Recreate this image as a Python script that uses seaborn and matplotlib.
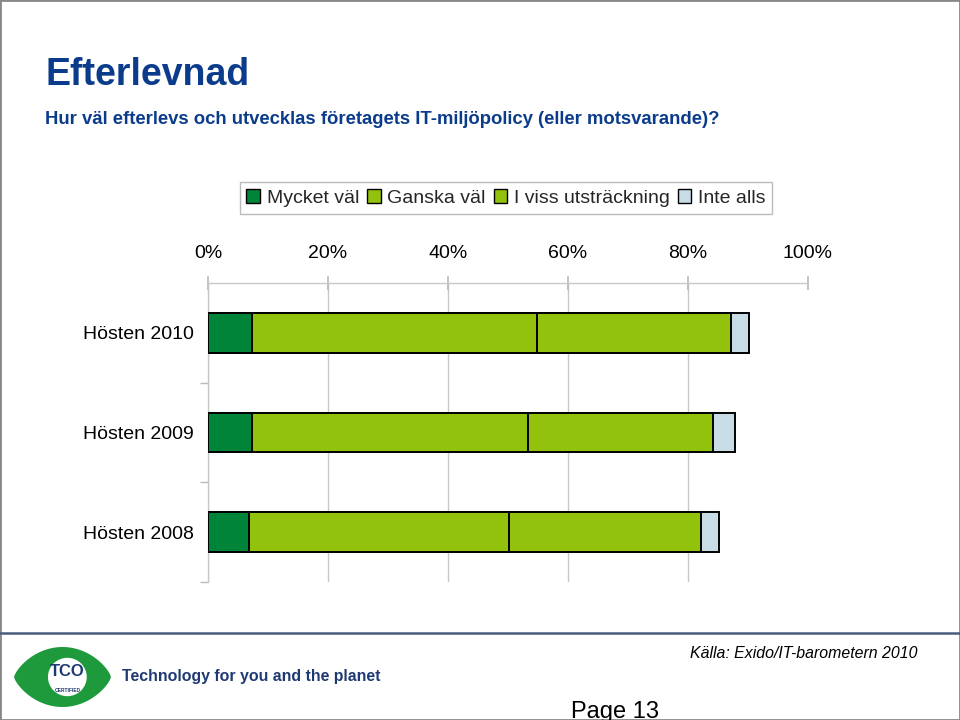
import numpy as np
import pandas as pd
import matplotlib
matplotlib.use("Agg")
import matplotlib.pyplot as plt
from matplotlib.patches import Patch, Polygon, Ellipse, Rectangle
from matplotlib.lines import Line2D
import seaborn as sns

# data (percent)
categories = ["Hösten 2010", "Hösten 2009", "Hösten 2008"]
mycket_val = [7.4, 7.4, 6.9]
ganska_val = [47.4, 45.9, 43.3]
i_viss = [32.3, 30.8, 31.9]
inte_alls = [3.0, 3.7, 3.1]
series_names = ["Mycket väl", "Ganska väl", "I viss utsträckning", "Inte alls"]
colors = ["#00843A", "#92C20C", "#92C20C", "#C8DCE6"]
tick_vals = [0, 20, 40, 60, 80, 100]

sns.set_theme(style="white")
plt.rcParams["font.family"] = ["Liberation Sans", "DejaVu Sans"]

df = pd.DataFrame({"kategori": categories, "s1": mycket_val, "s2": ganska_val,
                   "s3": i_viss, "s4": inte_alls})
df["c1"] = df["s1"]
df["c2"] = df["c1"] + df["s2"]
df["c3"] = df["c2"] + df["s3"]
df["c4"] = df["c3"] + df["s4"]

blue = "#0B3C8C"
fig = plt.figure(figsize=(9.6, 7.2), dpi=100)
ax = fig.add_axes([208 / 960, 1 - 582 / 720, 600 / 960, 299 / 720])

# stacked bars: draw cumulative totals from widest to narrowest
for col, c in zip(["c4", "c3", "c2", "c1"], colors[::-1]):
    sns.barplot(data=df, y="kategori", x=col, orient="h", color=c, saturation=1,
                edgecolor="black", linewidth=1.4, width=0.4, ax=ax, zorder=3)

ax.set_xlim(0, 100)
ax.set_ylim(2.5, -0.5)
ax.set_xlabel("")
ax.set_ylabel("")
ax.xaxis.tick_top()
ax.set_xticks(tick_vals)
ax.set_xticklabels([f"{v}%" for v in tick_vals], fontsize=14, color="black")
ax.tick_params(axis="x", top=True, bottom=False, direction="inout", length=10,
               color="#BBBBBB", pad=10)
ax.set_yticks(range(len(categories)))
ax.set_yticklabels(categories, fontsize=14, color="black")
ax.set_yticks([0.5, 1.5, 2.5], minor=True)
ax.tick_params(axis="y", which="major", length=0, pad=10)
ax.tick_params(axis="y", which="minor", left=True, length=6, color="#BBBBBB")
ax.grid(axis="x", color="#C8C8C8", linewidth=1, zorder=0)
ax.grid(axis="y", visible=False)
ax.set_axisbelow(True)
ax.get_xgridlines()[-1].set_visible(False)
for s in ["right", "bottom"]:
    ax.spines[s].set_visible(False)
for s in ["top", "left"]:
    ax.spines[s].set_color("#C8C8C8")
    ax.spines[s].set_linewidth(1)

# legend
handles = [Patch(facecolor=c, edgecolor="black", linewidth=1) for c in colors]
fig.legend(handles, series_names, loc="center", bbox_to_anchor=(506 / 960, 1 - 198 / 720),
           ncol=4, fontsize=14, frameon=True, fancybox=False, edgecolor="#BBBBBB",
           handlelength=0.7, handleheight=0.7, handletextpad=0.35, columnspacing=0.4,
           borderpad=0.35, framealpha=1)

# titles
fig.text(45 / 960, 1 - 85 / 720, "Efterlevnad", fontsize=27, fontweight="bold",
         color=blue, va="baseline", ha="left")
fig.text(45 / 960, 1 - 124 / 720,
         "Hur väl efterlevs och utvecklas företagets IT-miljöpolicy (eller motsvarande)?",
         fontsize=13.3, fontweight="bold", color=blue, va="baseline", ha="left")

# footer
fig.add_artist(Line2D([0, 1], [1 - 633 / 720] * 2, color="#4A5C7C", linewidth=1.8,
                      transform=fig.transFigure))
fig.add_artist(Rectangle((0, 0), 1, 1, transform=fig.transFigure, fill=False,
                         edgecolor="#888888", linewidth=2))
fig.text(918 / 960, 1 - 653 / 720, "Källa: Exido/IT-barometern 2010", fontsize=11.4,
         style="italic", ha="right", va="center", color="black")
fig.text(122 / 960, 1 - 676 / 720, "Technology for you and the planet", fontsize=11.4,
         fontweight="bold", ha="left", va="center", color="#1F3A73")
fig.text(615 / 960, 2 / 720, "Page 13", fontsize=17, ha="center", va="baseline",
         color="black")

# TCO logo
lax = fig.add_axes([14 / 960, 1 - 707 / 720, 97 / 960, 60 / 720])
lax.set_xlim(-1, 1)
lax.set_ylim(-1, 1)
lax.axis("off")
xs = np.linspace(-1, 1, 80)
ys = (1 - xs ** 2) ** 0.75
pts = np.vstack([np.column_stack([xs, ys]), np.column_stack([xs[::-1], -ys[::-1]])])
lax.add_patch(Polygon(pts, closed=True, facecolor="#1E9A3C", edgecolor="none"))
lax.add_patch(Ellipse((0.1, 0.0), 0.8, 1.28, facecolor="white", edgecolor="none"))
lax.text(0.1, 0.17, "TCO", fontsize=12, fontweight="heavy", color="#1F3A73",
         ha="center", va="center", fontstretch="condensed")
lax.text(0.1, -0.45, "CERTIFIED", fontsize=3.5, color="#1F3A73", ha="center",
         va="center", fontweight="bold")

fig.savefig("out.png", dpi=100)
